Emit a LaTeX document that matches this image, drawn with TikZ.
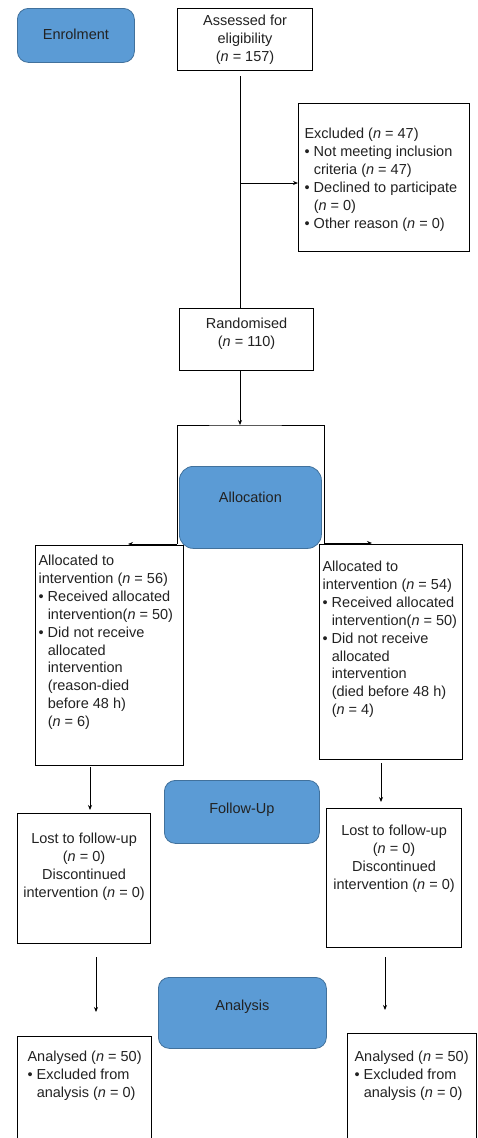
\documentclass[tikz,border=0pt]{standalone}
\usepackage{fontspec}
\setmainfont{Liberation Sans}
\usetikzlibrary{arrows.meta}
\definecolor{phaseblue}{HTML}{5B9BD5}
\definecolor{phaseedge}{HTML}{41719C}
\definecolor{txt}{HTML}{222222}
\newcommand{\mybul}{\makebox[9.2pt][l]{\textbullet}}
\newcommand{\myind}{\hspace*{9.2pt}}
\newcommand{\lbox}[5]{\parbox[c][#2pt][t]{#1pt}{\vspace*{\dimexpr #3pt-12.53pt\relax}\raggedright\leftskip=#4pt\strut #5}}
\newcommand{\cbox}[4]{\parbox[c][#2pt][t]{#1pt}{\vspace*{\dimexpr #3pt-12.53pt\relax}\centering\strut #4}}
\begin{document}
\begin{tikzpicture}[x=1pt,y=-1pt,
  font=\fontsize{14.5}{17.9}\selectfont,
  box/.style={draw=black, line width=1.1pt, inner sep=0pt, rectangle, anchor=north west, text=txt},
  phase/.style={draw=phaseedge, fill=phaseblue, line width=0.8pt, rounded corners=11pt, inner sep=0pt, anchor=north west, text=txt},
  line/.style={draw=black, line width=1pt},
  arr/.style={line, -{Stealth[length=5pt,width=4pt]}}]
\fill[white] (0,0) rectangle (477,1138);
\useasboundingbox (0,0) rectangle (477,1138);

% phase labels
\node[phase] (enrol) at (17,8) {\cbox{117}{54}{31}{Enrolment}};
\node[phase, rounded corners=14pt] (alloc) at (179,466) {\cbox{142}{82}{36}{Allocation}};
\node[phase] (follow) at (164,780) {\cbox{155}{63}{33}{Follow-Up}};
\node[phase] (analysis) at (158,977) {\cbox{168}{71}{33}{Analysis}};

% boxes
\node[box] (assess) at (177,8) {\cbox{135}{62}{17}{Assessed for\\eligibility\\(\textit{n} = 157)}};
\node[box] (excl) at (298,103) {\lbox{171}{148}{35}{6}{Excluded (\textit{n} = 47)\\\mybul Not meeting inclusion\\\myind criteria (\textit{n} = 47)\\\mybul Declined to participate\\\myind (\textit{n} = 0)\\\mybul Other reason (\textit{n} = 0)}};
\node[box] (rand) at (179,308) {\cbox{134}{62}{20}{Randomised\\(\textit{n} = 110)}};
\node[box] (allocL) at (35,545) {\lbox{148}{220}{20}{3}{Allocated to\\intervention (\textit{n} = 56)\\\mybul Received allocated\\\myind intervention(\textit{n} = 50)\\\mybul Did not receive\\\myind allocated\\\myind intervention\\\myind (reason-died\\\myind before 48 h)\\\myind (\textit{n} = 6)}};
\node[box] (allocR) at (319,544) {\lbox{143}{215}{27}{3}{Allocated to\\intervention (\textit{n} = 54)\\\mybul Received allocated\\\myind intervention(\textit{n} = 50)\\\mybul Did not receive\\\myind allocated\\\myind intervention\\\myind (died before 48 h)\\\myind (\textit{n} = 4)}};
\node[box] (fuL) at (17,813) {\cbox{133}{130}{30}{Lost to follow-up\\(\textit{n} = 0)\\Discontinued\\intervention (\textit{n} = 0)}};
\node[box] (fuR) at (326,808) {\cbox{135}{139}{27}{Lost to follow-up\\(\textit{n} = 0)\\Discontinued\\intervention (\textit{n} = 0)}};
\node[box] (anL) at (17,1036) {\lbox{134}{125}{25}{10}{Analysed (\textit{n} = 50)\\\mybul Excluded from\\\myind analysis (\textit{n} = 0)}};
\node[box] (anR) at (347,1033) {\lbox{129}{128}{28}{7}{Analysed (\textit{n} = 50)\\\mybul Excluded from\\\myind analysis (\textit{n} = 0)}};

% connectors
\coordinate (a1) at (240,76);
\coordinate (a2) at (240,183);
\coordinate (brtop) at (240,425);
\coordinate (bl) at (177,544);
\coordinate (br) at (324,543);
\coordinate (tipL) at (128,544);
\coordinate (tipR) at (372,543);
\coordinate (f1) at (90,767);
\coordinate (f1e) at (90,810);
\coordinate (f2) at (381,763);
\coordinate (f2e) at (381,802);
\coordinate (g1) at (96,957);
\coordinate (g1e) at (96,1012);
\coordinate (g2) at (385,957);
\coordinate (g2e) at (385,1010);

\draw[line] (a1) -- (a1 |- rand.north);
\draw[arr] (a2) -- (a2 -| excl.west);
\draw[arr] (rand.south -| a1) -- (brtop);
\draw[line] (bl) |- (brtop) -| (br);
\draw[arr] (bl) -- (tipL);
\draw[arr] (br) -- (tipR);
\draw[arr] (f1) -- (f1e);
\draw[arr] (f2) -- (f2e);
\draw[arr] (g1) -- (g1e);
\draw[arr] (g2) -- (g2e);
\end{tikzpicture}
\end{document}
